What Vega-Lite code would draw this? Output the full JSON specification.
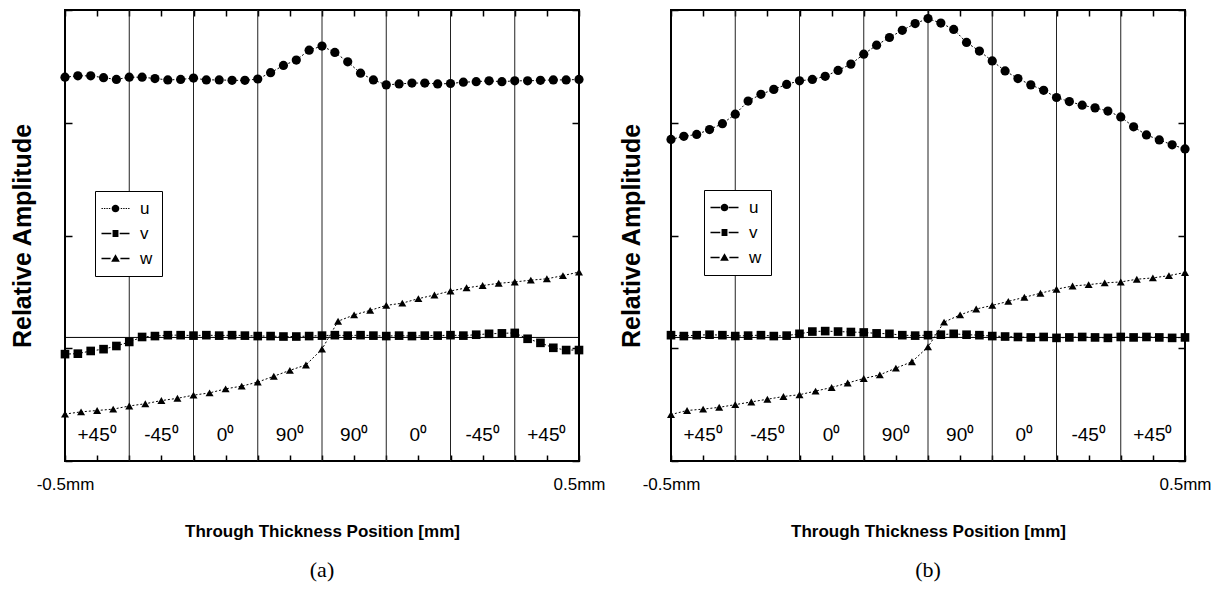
{
"$schema": "https://vega.github.io/schema/vega-lite/v6.json",
"padding": {"left": 9, "top": 8, "right": 10, "bottom": 10},
"bounds": "flush",
"spacing": 92,
"resolve": {"scale": {"shape": "independent"}, "legend": {"shape": "independent"}},
"datasets": {
"A": [
{"s":"u","x":-0.5,"y":0.851},{"s":"u","x":-0.475,"y":0.854},{"s":"u","x":-0.45,"y":0.854},{"s":"u","x":-0.425,"y":0.850},{"s":"u","x":-0.4,"y":0.846},{"s":"u","x":-0.375,"y":0.851},{"s":"u","x":-0.35,"y":0.851},{"s":"u","x":-0.325,"y":0.848},{"s":"u","x":-0.3,"y":0.845},{"s":"u","x":-0.275,"y":0.846},{"s":"u","x":-0.25,"y":0.849},{"s":"u","x":-0.225,"y":0.845},{"s":"u","x":-0.2,"y":0.845},{"s":"u","x":-0.175,"y":0.844},{"s":"u","x":-0.15,"y":0.844},{"s":"u","x":-0.125,"y":0.847},{"s":"u","x":-0.1,"y":0.861},{"s":"u","x":-0.075,"y":0.877},{"s":"u","x":-0.05,"y":0.889},{"s":"u","x":-0.025,"y":0.911},{"s":"u","x":0,"y":0.920},{"s":"u","x":0.025,"y":0.906},{"s":"u","x":0.05,"y":0.885},{"s":"u","x":0.075,"y":0.860},{"s":"u","x":0.1,"y":0.845},{"s":"u","x":0.125,"y":0.834},{"s":"u","x":0.15,"y":0.836},{"s":"u","x":0.175,"y":0.838},{"s":"u","x":0.2,"y":0.838},{"s":"u","x":0.225,"y":0.836},{"s":"u","x":0.25,"y":0.837},{"s":"u","x":0.275,"y":0.840},{"s":"u","x":0.3,"y":0.841},{"s":"u","x":0.325,"y":0.843},{"s":"u","x":0.35,"y":0.841},{"s":"u","x":0.375,"y":0.843},{"s":"u","x":0.4,"y":0.843},{"s":"u","x":0.425,"y":0.844},{"s":"u","x":0.45,"y":0.845},{"s":"u","x":0.475,"y":0.845},{"s":"u","x":0.5,"y":0.846},
{"s":"v","x":-0.5,"y":0.237},{"s":"v","x":-0.475,"y":0.238},{"s":"v","x":-0.45,"y":0.244},{"s":"v","x":-0.425,"y":0.248},{"s":"v","x":-0.4,"y":0.255},{"s":"v","x":-0.375,"y":0.264},{"s":"v","x":-0.35,"y":0.275},{"s":"v","x":-0.325,"y":0.277},{"s":"v","x":-0.3,"y":0.279},{"s":"v","x":-0.275,"y":0.279},{"s":"v","x":-0.25,"y":0.278},{"s":"v","x":-0.225,"y":0.279},{"s":"v","x":-0.2,"y":0.278},{"s":"v","x":-0.175,"y":0.279},{"s":"v","x":-0.15,"y":0.278},{"s":"v","x":-0.125,"y":0.277},{"s":"v","x":-0.1,"y":0.277},{"s":"v","x":-0.075,"y":0.276},{"s":"v","x":-0.05,"y":0.276},{"s":"v","x":-0.025,"y":0.277},{"s":"v","x":0,"y":0.278},{"s":"v","x":0.025,"y":0.279},{"s":"v","x":0.05,"y":0.278},{"s":"v","x":0.075,"y":0.279},{"s":"v","x":0.1,"y":0.278},{"s":"v","x":0.125,"y":0.277},{"s":"v","x":0.15,"y":0.278},{"s":"v","x":0.175,"y":0.277},{"s":"v","x":0.2,"y":0.278},{"s":"v","x":0.225,"y":0.278},{"s":"v","x":0.25,"y":0.279},{"s":"v","x":0.275,"y":0.278},{"s":"v","x":0.3,"y":0.280},{"s":"v","x":0.325,"y":0.282},{"s":"v","x":0.35,"y":0.283},{"s":"v","x":0.375,"y":0.284},{"s":"v","x":0.4,"y":0.271},{"s":"v","x":0.425,"y":0.262},{"s":"v","x":0.45,"y":0.251},{"s":"v","x":0.475,"y":0.246},{"s":"v","x":0.5,"y":0.246},
{"s":"w","x":-0.5,"y":0.104},{"s":"w","x":-0.46875,"y":0.109},{"s":"w","x":-0.4375,"y":0.112},{"s":"w","x":-0.40625,"y":0.115},{"s":"w","x":-0.375,"y":0.122},{"s":"w","x":-0.34375,"y":0.127},{"s":"w","x":-0.3125,"y":0.134},{"s":"w","x":-0.28125,"y":0.139},{"s":"w","x":-0.25,"y":0.146},{"s":"w","x":-0.21875,"y":0.151},{"s":"w","x":-0.1875,"y":0.160},{"s":"w","x":-0.15625,"y":0.166},{"s":"w","x":-0.125,"y":0.175},{"s":"w","x":-0.09375,"y":0.188},{"s":"w","x":-0.0625,"y":0.201},{"s":"w","x":-0.03125,"y":0.213},{"s":"w","x":0,"y":0.248},{"s":"w","x":0.03125,"y":0.310},{"s":"w","x":0.0625,"y":0.324},{"s":"w","x":0.09375,"y":0.334},{"s":"w","x":0.125,"y":0.345},{"s":"w","x":0.15625,"y":0.350},{"s":"w","x":0.1875,"y":0.360},{"s":"w","x":0.21875,"y":0.368},{"s":"w","x":0.25,"y":0.377},{"s":"w","x":0.28125,"y":0.384},{"s":"w","x":0.3125,"y":0.389},{"s":"w","x":0.34375,"y":0.394},{"s":"w","x":0.375,"y":0.397},{"s":"w","x":0.40625,"y":0.401},{"s":"w","x":0.4375,"y":0.404},{"s":"w","x":0.46875,"y":0.411},{"s":"w","x":0.5,"y":0.419}
],
"B": [
{"s":"u","x":-0.5,"y":0.713},{"s":"u","x":-0.475,"y":0.720},{"s":"u","x":-0.45,"y":0.724},{"s":"u","x":-0.425,"y":0.735},{"s":"u","x":-0.4,"y":0.748},{"s":"u","x":-0.375,"y":0.769},{"s":"u","x":-0.35,"y":0.798},{"s":"u","x":-0.325,"y":0.813},{"s":"u","x":-0.3,"y":0.824},{"s":"u","x":-0.275,"y":0.835},{"s":"u","x":-0.25,"y":0.843},{"s":"u","x":-0.225,"y":0.846},{"s":"u","x":-0.2,"y":0.853},{"s":"u","x":-0.175,"y":0.866},{"s":"u","x":-0.15,"y":0.880},{"s":"u","x":-0.125,"y":0.902},{"s":"u","x":-0.1,"y":0.922},{"s":"u","x":-0.075,"y":0.939},{"s":"u","x":-0.05,"y":0.955},{"s":"u","x":-0.025,"y":0.970},{"s":"u","x":0,"y":0.981},{"s":"u","x":0.025,"y":0.971},{"s":"u","x":0.05,"y":0.957},{"s":"u","x":0.075,"y":0.928},{"s":"u","x":0.1,"y":0.909},{"s":"u","x":0.125,"y":0.887},{"s":"u","x":0.15,"y":0.865},{"s":"u","x":0.175,"y":0.848},{"s":"u","x":0.2,"y":0.834},{"s":"u","x":0.225,"y":0.822},{"s":"u","x":0.25,"y":0.806},{"s":"u","x":0.275,"y":0.797},{"s":"u","x":0.3,"y":0.789},{"s":"u","x":0.325,"y":0.783},{"s":"u","x":0.35,"y":0.776},{"s":"u","x":0.375,"y":0.763},{"s":"u","x":0.4,"y":0.741},{"s":"u","x":0.425,"y":0.723},{"s":"u","x":0.45,"y":0.712},{"s":"u","x":0.475,"y":0.701},{"s":"u","x":0.5,"y":0.692},
{"s":"v","x":-0.5,"y":0.279},{"s":"v","x":-0.475,"y":0.277},{"s":"v","x":-0.45,"y":0.279},{"s":"v","x":-0.425,"y":0.280},{"s":"v","x":-0.4,"y":0.279},{"s":"v","x":-0.375,"y":0.277},{"s":"v","x":-0.35,"y":0.278},{"s":"v","x":-0.325,"y":0.279},{"s":"v","x":-0.3,"y":0.277},{"s":"v","x":-0.275,"y":0.278},{"s":"v","x":-0.25,"y":0.282},{"s":"v","x":-0.225,"y":0.287},{"s":"v","x":-0.2,"y":0.288},{"s":"v","x":-0.175,"y":0.287},{"s":"v","x":-0.15,"y":0.286},{"s":"v","x":-0.125,"y":0.285},{"s":"v","x":-0.1,"y":0.283},{"s":"v","x":-0.075,"y":0.282},{"s":"v","x":-0.05,"y":0.279},{"s":"v","x":-0.025,"y":0.278},{"s":"v","x":0,"y":0.279},{"s":"v","x":0.025,"y":0.280},{"s":"v","x":0.05,"y":0.282},{"s":"v","x":0.075,"y":0.280},{"s":"v","x":0.1,"y":0.279},{"s":"v","x":0.125,"y":0.277},{"s":"v","x":0.15,"y":0.276},{"s":"v","x":0.175,"y":0.275},{"s":"v","x":0.2,"y":0.274},{"s":"v","x":0.225,"y":0.275},{"s":"v","x":0.25,"y":0.273},{"s":"v","x":0.275,"y":0.274},{"s":"v","x":0.3,"y":0.275},{"s":"v","x":0.325,"y":0.274},{"s":"v","x":0.35,"y":0.273},{"s":"v","x":0.375,"y":0.275},{"s":"v","x":0.4,"y":0.274},{"s":"v","x":0.425,"y":0.275},{"s":"v","x":0.45,"y":0.274},{"s":"v","x":0.475,"y":0.273},{"s":"v","x":0.5,"y":0.274},
{"s":"w","x":-0.5,"y":0.103},{"s":"w","x":-0.46875,"y":0.112},{"s":"w","x":-0.4375,"y":0.115},{"s":"w","x":-0.40625,"y":0.119},{"s":"w","x":-0.375,"y":0.125},{"s":"w","x":-0.34375,"y":0.131},{"s":"w","x":-0.3125,"y":0.137},{"s":"w","x":-0.28125,"y":0.143},{"s":"w","x":-0.25,"y":0.147},{"s":"w","x":-0.21875,"y":0.155},{"s":"w","x":-0.1875,"y":0.163},{"s":"w","x":-0.15625,"y":0.173},{"s":"w","x":-0.125,"y":0.183},{"s":"w","x":-0.09375,"y":0.191},{"s":"w","x":-0.0625,"y":0.206},{"s":"w","x":-0.03125,"y":0.220},{"s":"w","x":0,"y":0.253},{"s":"w","x":0.03125,"y":0.308},{"s":"w","x":0.0625,"y":0.324},{"s":"w","x":0.09375,"y":0.337},{"s":"w","x":0.125,"y":0.345},{"s":"w","x":0.15625,"y":0.354},{"s":"w","x":0.1875,"y":0.363},{"s":"w","x":0.21875,"y":0.372},{"s":"w","x":0.25,"y":0.381},{"s":"w","x":0.28125,"y":0.388},{"s":"w","x":0.3125,"y":0.391},{"s":"w","x":0.34375,"y":0.395},{"s":"w","x":0.375,"y":0.397},{"s":"w","x":0.40625,"y":0.403},{"s":"w","x":0.4375,"y":0.406},{"s":"w","x":0.46875,"y":0.411},{"s":"w","x":0.5,"y":0.418}
],
"bounds": [{"x":-0.375},{"x":-0.25},{"x":-0.125},{"x":0},{"x":0.125},{"x":0.25},{"x":0.375}],
"plies": [{"x":-0.4375,"t":"+45⁰"},{"x":-0.3125,"t":"-45⁰"},{"x":-0.1875,"t":"0⁰"},{"x":-0.0625,"t":"90⁰"},{"x":0.0625,"t":"90⁰"},{"x":0.1875,"t":"0⁰"},{"x":0.3125,"t":"-45⁰"},{"x":0.4375,"t":"+45⁰"}],
"refline": [{"k":"zero"}],
"series": [{"s":"u"},{"s":"v"},{"s":"w"}]
},
"hconcat": [
{
"width": 514, "height": 451,
"title": {"text": "(a)", "orient": "bottom", "frame": "group", "anchor": "middle", "font": "Liberation Serif", "fontSize": 22, "fontWeight": "normal", "color": "black", "offset": 21},
"layer": [
{"data": {"name": "bounds"}, "mark": {"type": "rule", "color": "#222", "strokeWidth": 1},
 "encoding": {"x": {"field": "x", "type": "quantitative", "scale": {"domain": [-0.5, 0.5], "nice": false, "zero": false},
  "axis": {"orient": "top", "values": [-0.5,-0.4375,-0.375,-0.3125,-0.25,-0.1875,-0.125,-0.0625,0,0.0625,0.125,0.1875,0.25,0.3125,0.375,0.4375,0.5], "tickSize": -6, "labels": false, "title": null, "domain": false, "grid": false}}}},
{"data": {"name": "refline"}, "mark": {"type": "rule", "color": "black", "strokeWidth": 1},
 "encoding": {"y": {"datum": 0.274, "type": "quantitative", "scale": {"domain": [0, 1], "nice": false, "zero": false},
  "axis": {"orient": "right", "values": [0, 0.25, 0.5, 0.75, 1], "tickSize": -7, "labels": false, "title": null, "domain": false, "grid": false}}}},
{"data": {"name": "A"}, "mark": {"type": "line", "color": "black", "strokeWidth": 1, "strokeDash": [2, 2]},
 "encoding": {
  "x": {"field": "x", "type": "quantitative", "axis": {"orient": "bottom", "values": [-0.5,-0.4375,-0.375,-0.3125,-0.25,-0.1875,-0.125,-0.0625,0,0.0625,0.125,0.1875,0.25,0.3125,0.375,0.4375,0.5], "tickSize": -6, "labelExpr": "datum.value == -0.5 ? '-0.5mm' : (datum.value == 0.5 ? '0.5mm' : '')", "labelPadding": 21, "labelFont": "Liberation Sans", "labelFontSize": 17, "labelColor": "black", "labelFlush": false, "labelOverlap": false, "labelBound": false, "title": "Through Thickness Position [mm]", "titleFont": "Liberation Sans", "titleFontSize": 17, "titleFontWeight": "bold", "titleColor": "black", "titlePadding": 31, "domain": false, "grid": false}},
  "y": {"field": "y", "type": "quantitative", "axis": {"orient": "left", "values": [0, 0.25, 0.5, 0.75, 1], "tickSize": -7, "labels": false, "title": "Relative Amplitude", "titleFont": "Liberation Sans", "titleFontSize": 25, "titleFontWeight": "bold", "titleColor": "black", "titlePadding": 29, "domain": false, "grid": false}},
  "detail": {"field": "s"}}},
{"data": {"name": "A"}, "mark": {"type": "point", "filled": true, "color": "black", "opacity": 1},
 "encoding": {
  "x": {"field": "x", "type": "quantitative", "axis": null},
  "y": {"field": "y", "type": "quantitative", "axis": null},
  "size": {"field": "s", "type": "ordinal", "scale": {"domain": ["u", "v", "w"], "range": [85, 64, 100]}, "legend": null},
  "shape": {"field": "s", "type": "nominal", "scale": {"domain": ["u", "v", "w"], "range": ["circle", "square", "triangle-up"]}, "legend": null}}},
{"data": {"name": "plies"}, "mark": {"type": "text", "font": "Liberation Sans", "fontSize": 19, "color": "black", "baseline": "middle", "align": "center"},
 "encoding": {
  "x": {"field": "x", "type": "quantitative", "axis": null},
  "y": {"datum": 0.058, "type": "quantitative", "axis": null},
  "text": {"field": "t"}}},
{"data": {"name": "series"}, "mark": {"type": "point", "filled": true, "color": "black", "opacity": 0},
 "encoding": {
  "shape": {"field": "s", "type": "nominal", "scale": {"domain": ["u", "v", "w"], "range": ["M-2,-0.08H-1.8V0.08H-2ZM-1.65,-0.08H-1.45V0.08H-1.65ZM-1.3,-0.08H-1.1V0.08H-1.3ZM-0.95,-0.08H-0.75V0.08H-0.95ZM0.75,-0.08H0.95V0.08H0.75ZM1.1,-0.08H1.3V0.08H1.1ZM1.45,-0.08H1.65V0.08H1.45ZM1.8,-0.08H2V0.08H1.8ZM-0.55,0A0.55,0.55,0,1,1,0.55,0A0.55,0.55,0,1,1,-0.55,0Z", "M-2,-0.09H-0.6V0.09H-2ZM0.6,-0.09H2V0.09H0.6ZM-0.42,-0.5H0.42V0.5H-0.42Z", "M-2,-0.09H-0.7V0.09H-2ZM0.7,-0.09H2V0.09H0.7ZM0,-0.62L0.62,0.45H-0.62Z"]},
   "legend": {"title": null, "orient": "none", "legendX": 30, "legendY": 181, "strokeColor": "black", "fillColor": "white", "padding": 9, "symbolSize": 196, "symbolOpacity": 1, "symbolFillColor": "black", "symbolStrokeColor": "black", "symbolStrokeWidth": 0, "symbolOffset": 3, "labelFont": "Liberation Sans", "labelFontSize": 17, "labelColor": "black", "labelOffset": 16, "rowPadding": 7}}}}
],
"resolve": {"axis": {"x": "independent", "y": "independent"}, "scale": {"shape": "independent"}}
},
{
"width": 514, "height": 451,
"title": {"text": "(b)", "orient": "bottom", "frame": "group", "anchor": "middle", "font": "Liberation Serif", "fontSize": 22, "fontWeight": "normal", "color": "black", "offset": 21},
"layer": [
{"data": {"name": "bounds"}, "mark": {"type": "rule", "color": "#222", "strokeWidth": 1},
 "encoding": {"x": {"field": "x", "type": "quantitative", "scale": {"domain": [-0.5, 0.5], "nice": false, "zero": false},
  "axis": {"orient": "top", "values": [-0.5,-0.4375,-0.375,-0.3125,-0.25,-0.1875,-0.125,-0.0625,0,0.0625,0.125,0.1875,0.25,0.3125,0.375,0.4375,0.5], "tickSize": -6, "labels": false, "title": null, "domain": false, "grid": false}}}},
{"data": {"name": "refline"}, "mark": {"type": "rule", "color": "black", "strokeWidth": 1},
 "encoding": {"y": {"datum": 0.274, "type": "quantitative", "scale": {"domain": [0, 1], "nice": false, "zero": false},
  "axis": {"orient": "right", "values": [0, 0.25, 0.5, 0.75, 1], "tickSize": -7, "labels": false, "title": null, "domain": false, "grid": false}}}},
{"data": {"name": "B"}, "mark": {"type": "line", "color": "black", "strokeWidth": 1, "strokeDash": [2, 2]},
 "encoding": {
  "x": {"field": "x", "type": "quantitative", "axis": {"orient": "bottom", "values": [-0.5,-0.4375,-0.375,-0.3125,-0.25,-0.1875,-0.125,-0.0625,0,0.0625,0.125,0.1875,0.25,0.3125,0.375,0.4375,0.5], "tickSize": -6, "labelExpr": "datum.value == -0.5 ? '-0.5mm' : (datum.value == 0.5 ? '0.5mm' : '')", "labelPadding": 21, "labelFont": "Liberation Sans", "labelFontSize": 17, "labelColor": "black", "labelFlush": false, "labelOverlap": false, "labelBound": false, "title": "Through Thickness Position [mm]", "titleFont": "Liberation Sans", "titleFontSize": 17, "titleFontWeight": "bold", "titleColor": "black", "titlePadding": 31, "domain": false, "grid": false}},
  "y": {"field": "y", "type": "quantitative", "axis": {"orient": "left", "values": [0, 0.25, 0.5, 0.75, 1], "tickSize": -7, "labels": false, "title": "Relative Amplitude", "titleFont": "Liberation Sans", "titleFontSize": 25, "titleFontWeight": "bold", "titleColor": "black", "titlePadding": 26, "domain": false, "grid": false}},
  "detail": {"field": "s"}}},
{"data": {"name": "B"}, "mark": {"type": "point", "filled": true, "color": "black", "opacity": 1},
 "encoding": {
  "x": {"field": "x", "type": "quantitative", "axis": null},
  "y": {"field": "y", "type": "quantitative", "axis": null},
  "size": {"field": "s", "type": "ordinal", "scale": {"domain": ["u", "v", "w"], "range": [85, 64, 100]}, "legend": null},
  "shape": {"field": "s", "type": "nominal", "scale": {"domain": ["u", "v", "w"], "range": ["circle", "square", "triangle-up"]}, "legend": null}}},
{"data": {"name": "plies"}, "mark": {"type": "text", "font": "Liberation Sans", "fontSize": 19, "color": "black", "baseline": "middle", "align": "center"},
 "encoding": {
  "x": {"field": "x", "type": "quantitative", "axis": null},
  "y": {"datum": 0.058, "type": "quantitative", "axis": null},
  "text": {"field": "t"}}},
{"data": {"name": "series"}, "mark": {"type": "point", "filled": true, "color": "black", "opacity": 0},
 "encoding": {
  "shape": {"field": "s", "type": "nominal", "scale": {"domain": ["u", "v", "w"], "range": ["M-2,-0.09H-0.6V0.09H-2ZM0.6,-0.09H2V0.09H0.6ZM-0.55,0A0.55,0.55,0,1,1,0.55,0A0.55,0.55,0,1,1,-0.55,0Z", "M-2,-0.09H-0.6V0.09H-2ZM0.6,-0.09H2V0.09H0.6ZM-0.42,-0.5H0.42V0.5H-0.42Z", "M-2,-0.09H-0.7V0.09H-2ZM0.7,-0.09H2V0.09H0.7ZM0,-0.62L0.62,0.45H-0.62Z"]},
   "legend": {"title": null, "orient": "none", "legendX": 33, "legendY": 180, "strokeColor": "black", "fillColor": "white", "padding": 9, "symbolSize": 196, "symbolOpacity": 1, "symbolFillColor": "black", "symbolStrokeColor": "black", "symbolStrokeWidth": 0, "symbolOffset": 3, "labelFont": "Liberation Sans", "labelFontSize": 17, "labelColor": "black", "labelOffset": 16, "rowPadding": 7}}}}
],
"resolve": {"axis": {"x": "independent", "y": "independent"}, "scale": {"shape": "independent"}}
}
],
"config": {
 "view": {"stroke": "black", "strokeWidth": 2},
 "axis": {"tickColor": "black", "tickWidth": 1.5}
}
}
